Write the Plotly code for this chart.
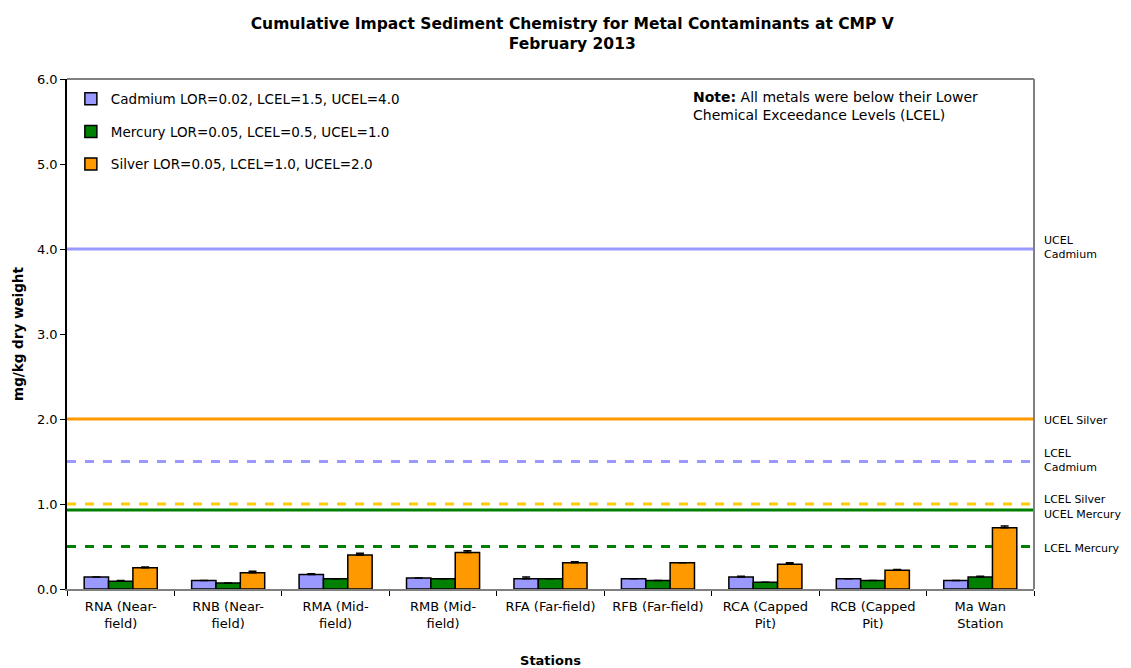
import plotly.graph_objects as go

stations = ["RNA (Near-<br>field)", "RNB (Near-<br>field)", "RMA (Mid-<br>field)", "RMB (Mid-<br>field)",
            "RFA (Far-field)", "RFB (Far-field)", "RCA (Capped<br>Pit)", "RCB (Capped<br>Pit)", "Ma Wan<br>Station"]
cadmium = [0.14, 0.10, 0.17, 0.13, 0.12, 0.12, 0.14, 0.12, 0.10]
cadmium_err = [0.0, 0.0, 0.01, 0.0, 0.02, 0.0, 0.01, 0.0, 0.0]
mercury = [0.09, 0.07, 0.12, 0.12, 0.12, 0.10, 0.08, 0.10, 0.14]
mercury_err = [0.01, 0.0, 0.0, 0.0, 0.0, 0.0, 0.0, 0.0, 0.01]
silver = [0.25, 0.19, 0.40, 0.43, 0.31, 0.31, 0.29, 0.22, 0.72]
silver_err = [0.01, 0.02, 0.02, 0.02, 0.01, 0.0, 0.02, 0.01, 0.02]
series_names = ["Cadmium LOR=0.02, LCEL=1.5, UCEL=4.0",
                "Mercury LOR=0.05, LCEL=0.5, UCEL=1.0",
                "Silver LOR=0.05, LCEL=1.0, UCEL=2.0"]

ref_labels = ["UCEL<br>Cadmium", "UCEL Silver", "LCEL<br>Cadmium", "LCEL Silver", "UCEL Mercury", "LCEL Mercury"]
ref_values = [4.0, 2.0, 1.5, 1.0, 0.93, 0.5]
ref_label_y = [4.02, 1.98, 1.51, 1.05, 0.88, 0.48]

colors = ["#9999ff", "#008000", "#ff9900"]
ref_colors = ["#9999ff", "#ff9900", "#9999ff", "#ffcc00", "#008000", "#008000"]
ref_dash = ["solid", "solid", "dash", "dash", "solid", "dash"]

FONT = "DejaVu Sans, Arial, sans-serif"

fig = go.Figure()
for i, (vals, errs) in enumerate([(cadmium, cadmium_err), (mercury, mercury_err), (silver, silver_err)]):
    fig.add_trace(go.Bar(
        x=stations, y=vals, name=series_names[i], legendgroup=str(i),
        marker=dict(color=colors[i], line=dict(color="black", width=1.5)),
        error_y=dict(type="data", array=errs, arrayminus=[0] * len(errs), symmetric=False,
                     color="black", thickness=1.5, width=4),
    ))

shapes = []
for v, c, d in zip(ref_values, ref_colors, ref_dash):
    shapes.append(dict(type="line", xref="paper", yref="y", x0=0, x1=1, y0=v, y1=v,
                       line=dict(color=c, width=3, dash=d), layer="below"))
# grey frame top/right
shapes.append(dict(type="line", xref="paper", yref="paper", x0=0, x1=1, y0=1, y1=1,
                   line=dict(color="#808080", width=2)))
shapes.append(dict(type="line", xref="paper", yref="paper", x0=1, x1=1, y0=0, y1=1,
                   line=dict(color="#808080", width=2)))

annotations = []
for lab, ly in zip(ref_labels, ref_label_y):
    annotations.append(dict(xref="paper", yref="y", x=1.008, y=ly, xanchor="left", yanchor="middle",
                            text=lab, showarrow=False, align="left",
                            font=dict(family=FONT, size=11, color="black")))
annotations.append(dict(xref="paper", yref="paper", x=0.645, y=0.985, xanchor="left", yanchor="top",
                        text="<b>Note:</b> All metals were below their Lower<br>Chemical Exceedance Levels (LCEL)",
                        showarrow=False, align="left",
                        font=dict(family=FONT, size=14, color="black")))

fig.update_layout(
    width=1124, height=661,
    margin=dict(l=59, r=98, t=71, b=80),
    paper_bgcolor="white", plot_bgcolor="white",
    font=dict(family=FONT, size=13, color="black"),
    title=dict(text="<b>Cumulative Impact Sediment Chemistry for Metal Contaminants at CMP V<br>February 2013</b>",
               x=0.502, xanchor="center", yref="container", y=0.968, yanchor="middle",
               font=dict(family=FONT, size=15.5, color="black")),
    barmode="group", bargap=0.32, bargroupgap=0,
    legend=dict(x=0.004, y=0.991, xanchor="left", yanchor="top", bgcolor="rgba(0,0,0,0)",
                font=dict(family=FONT, size=13.5), tracegroupgap=12),
    shapes=shapes, annotations=annotations,
    showlegend=True,
)
fig.update_xaxes(showline=True, linecolor="#808080", linewidth=2, ticks="outside", tickson="boundaries",
                 ticklen=5, tickcolor="black", showgrid=False, automargin=False, ticklabelstandoff=4,
                 title=dict(text="<b>Stations</b>", font=dict(family=FONT, size=13), standoff=26),
                 tickfont=dict(family=FONT, size=13))
fig.update_yaxes(range=[0, 6], dtick=1, tickformat=".1f", showline=True, linecolor="black", linewidth=1.5,
                 ticks="outside", ticklen=5, tickcolor="black", showgrid=False, zeroline=False, automargin=False,
                 title=dict(text="<b>mg/kg dry weight</b>", font=dict(family=FONT, size=13.5), standoff=10),
                 tickfont=dict(family=FONT, size=13))

fig.write_html("out.html")
